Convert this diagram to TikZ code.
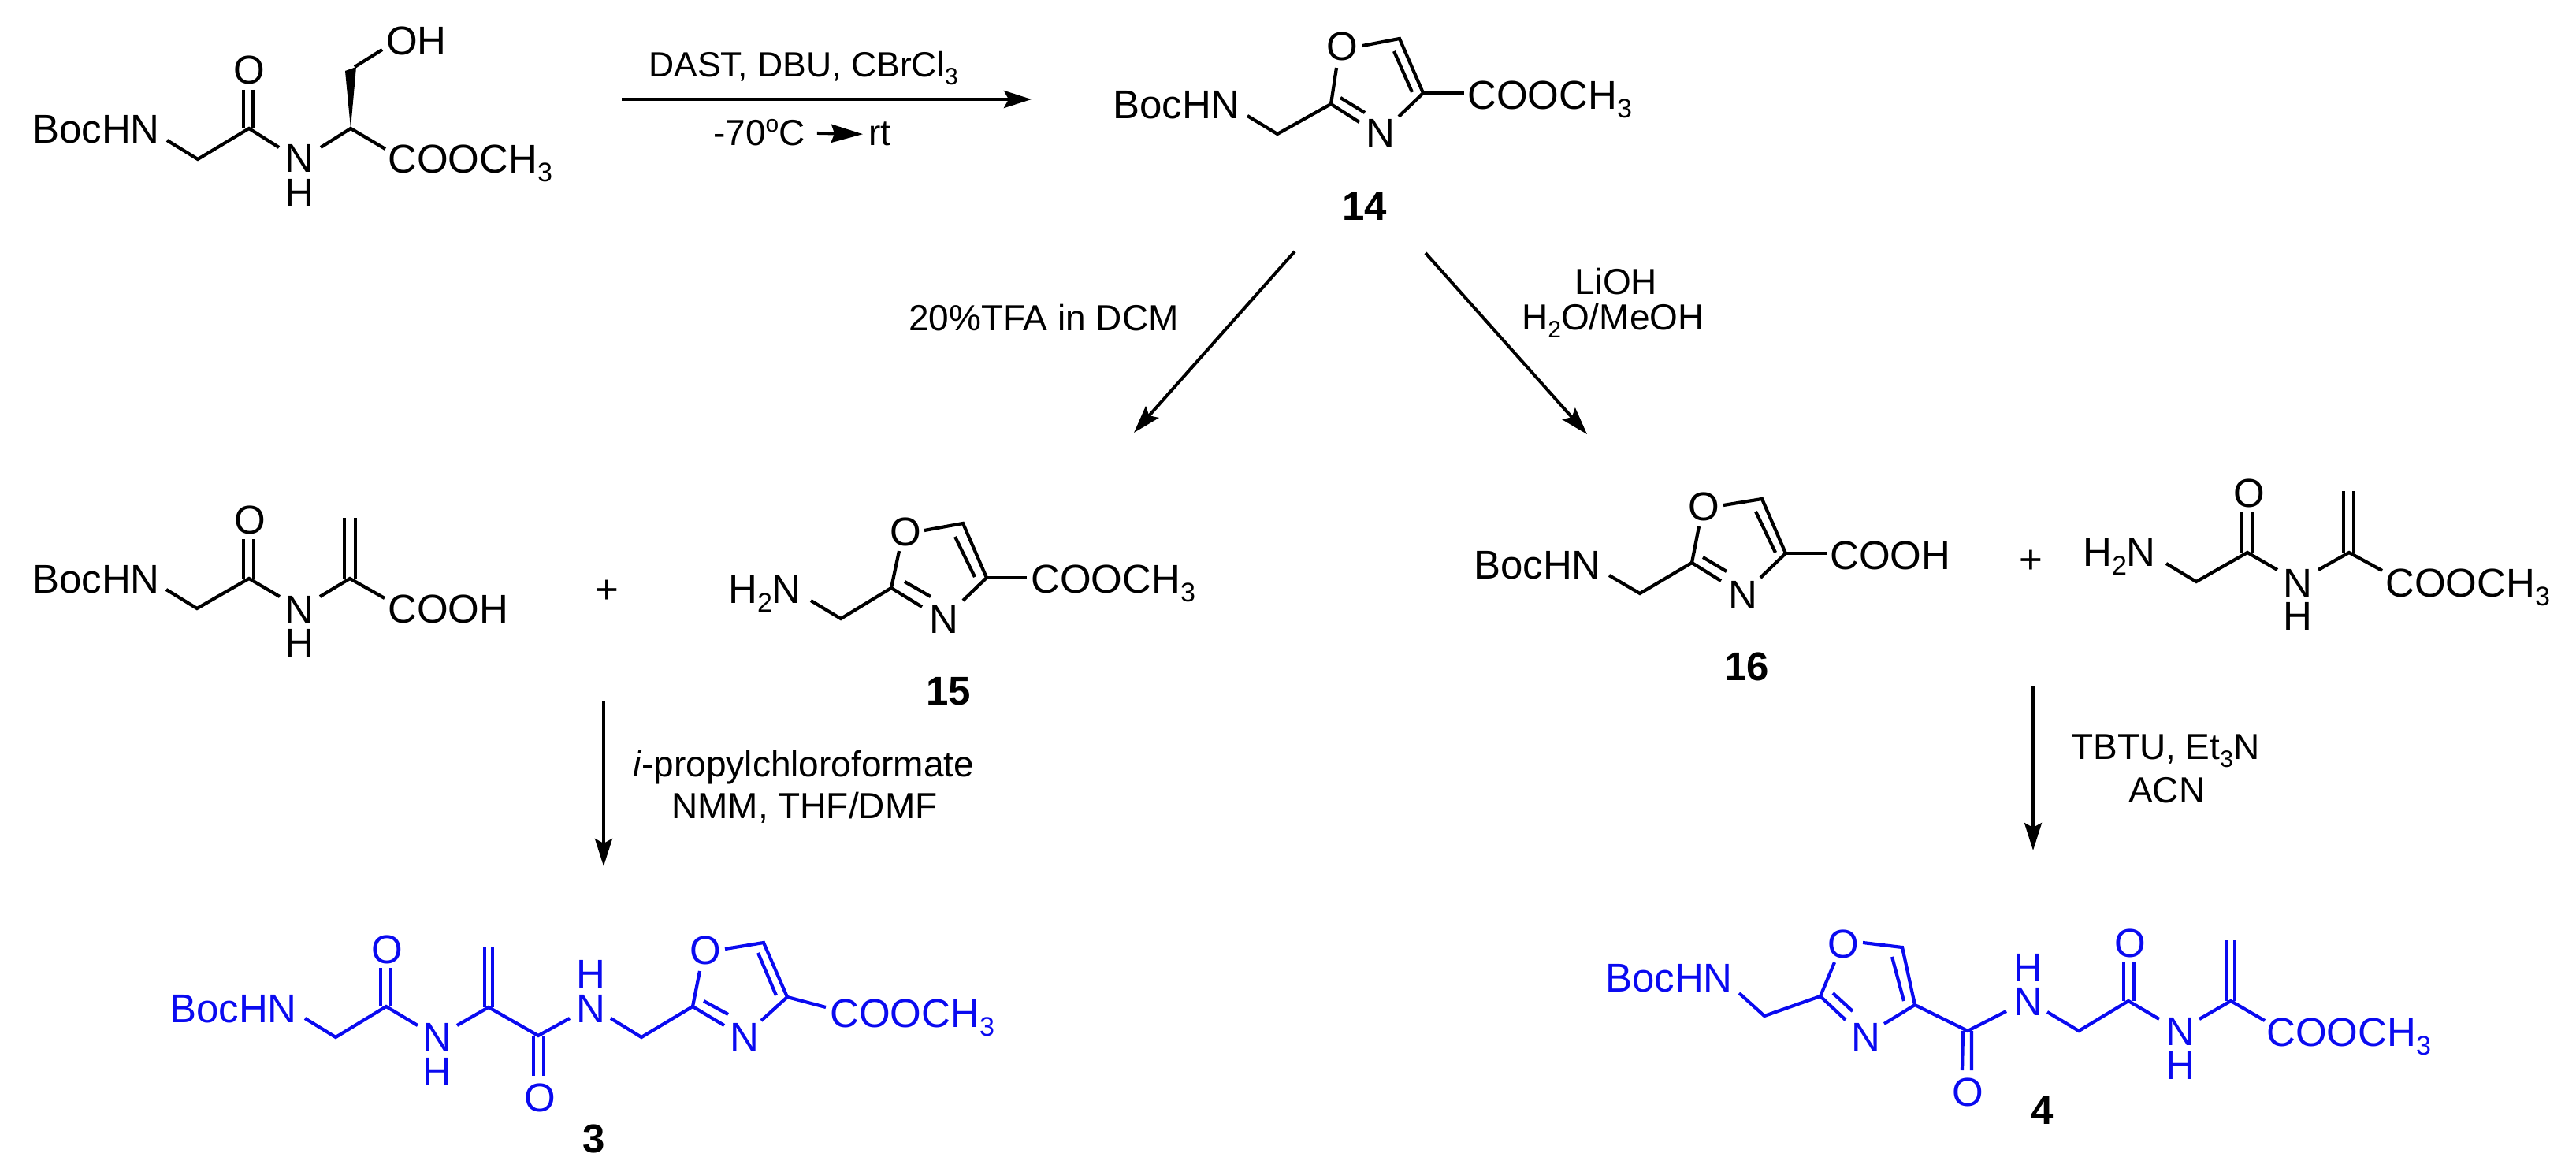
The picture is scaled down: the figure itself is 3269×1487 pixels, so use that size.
\documentclass[tikz,border=0pt]{standalone}
\usepackage{fontspec}
\setmainfont{Liberation Sans}
\usetikzlibrary{arrows.meta}
\definecolor{chemblue}{RGB}{10,10,240}
\newcommand{\subn}[1]{\raisebox{-11pt}{\fontsize{34}{34}\selectfont #1}}
\newcommand{\subr}[1]{\raisebox{-10pt}{\fontsize{30}{30}\selectfont #1}}
\tikzset{
  bond/.style={line width=4.2pt,line join=miter},
  lab/.style={inner sep=0pt,anchor=base west,font=\fontsize{51}{51}\selectfont},
  numlab/.style={lab,font=\fontsize{51}{51}\selectfont\bfseries},
  reag/.style={lab,font=\fontsize{46}{46}\selectfont},
  rxn/.style={line width=4pt,-{Stealth[length=35pt,width=22pt,inset=6pt]}},
  rxnsmall/.style={line width=4pt,-{Stealth[length=40pt,width=23pt,inset=4pt]}}
}
\begin{document}
\begin{tikzpicture}[x=1pt,y=-1pt]
\useasboundingbox (0,0) rectangle (3269,1487);
% ---- arrows
\coordinate (r1s) at (789,126); \coordinate (r1e) at (1309,126);
\coordinate (r2s) at (1643,319); \coordinate (r2e) at (1439,549);
\coordinate (r3s) at (1809,321); \coordinate (r3e) at (2014,551);
\coordinate (r4s) at (766,890); \coordinate (r4e) at (766,1099);
\coordinate (r5s) at (2580,870); \coordinate (r5e) at (2580,1079);
\draw[rxn] (r1s) -- (r1e);
\draw[rxn] (r2s) -- (r2e);
\draw[rxn] (r3s) -- (r3e);
\draw[rxn] (r4s) -- (r4e);
\draw[rxn] (r5s) -- (r5e);
% ---- reagents
\node[reag,font=\fontsize{44.5}{44.5}\selectfont] (t1) at (823,98) {DAST, DBU, CBrCl\subr{3}};
\node[reag] (t2) at (905,185) {-70\raisebox{17pt}{\fontsize{30}{30}\selectfont o}C};
\node[reag] (t3) at (1102,185) {rt};
\draw[rxnsmall,shorten <=15pt,shorten >=7pt] (t2.east) -- (t3.west);
\node[reag] (t4) at (1153,420) {20\%TFA in DCM};
\node[reag] (t5) at (1998,374) {LiOH};
\node[reag] (t6) at (1931,418) {H\subr{2}O/MeOH};
\node[reag] (t7) at (803,985) {\emph{i}-propylchloroformate};
\node[reag] (t8) at (852,1038) {NMM, THF/DMF};
\node[reag] (t9) at (2628,963) {TBTU, Et\subr{3}N};
\node[reag] (t10) at (2701,1018) {ACN};
% ---- starting dipeptide
\node[lab] (a1) at (41,182) {BocHN};
\node[lab] (a2) at (361,219) {N};
\node[lab] (a3) at (361,263) {H};
\node[lab] (a4) at (296,107) {O};
\node[lab] (a5) at (492,220) {COOCH\subn{3}};
\node[lab] (a6) at (490,70) {OH};
\draw[bond] (212,178)--(251,202)--(316,163)--(354,187);
\draw[bond] (309,114)--(309,163) (321,114)--(321,163);
\draw[bond] (407,187)--(445,163)--(489,189);
\fill (445,163)--(438,90)--(452,85)--cycle;
\draw[bond] (450,85)--(485,63);
% ---- 14
\node[lab] (b1) at (1412,151) {BocHN};
\node[lab] (b2) at (1733,187) {N};
\node[lab] (b3) at (1683,77) {O};
\node[lab] (b4) at (1862,139) {COOCH\subn{3}};
\node[numlab] (b5) at (1703,280) {14};
\draw[bond] (1583,147)--(1621,170)--(1689,132)--(1696,86);
\draw[bond] (1689,132)--(1725,155);
\draw[bond] (1701,124)--(1732,143);
\draw[bond] (1729,58)--(1776,49)--(1806,118)--(1775,148);
\draw[bond] (1769,65)--(1792,117);
\draw[bond] (1806,118)--(1858,118);
% ---- acid + 
\node[lab] (c1) at (41,752) {BocHN};
\node[lab] (c2) at (361,791) {N};
\node[lab] (c3) at (361,833) {H};
\node[lab] (c4) at (297,677) {O};
\node[lab] (c5) at (492,790) {COOH};
\node[lab] (c6) at (755,765) {+};
\draw[bond] (211,748)--(250,772)--(316,734)--(355,757);
\draw[bond] (309,684)--(309,734) (322,684)--(322,734);
\draw[bond] (406,757)--(444,734)--(488,759);
\draw[bond] (437,657)--(437,734) (451,657)--(451,734);
% ---- 15
\node[lab] (d1) at (924,765) {H\subn{2}N};
\node[lab] (d2) at (1179,803) {N};
\node[lab] (d3) at (1129,692) {O};
\node[lab] (d4) at (1308,752) {COOCH\subn{3}};
\node[numlab] (d5) at (1175,894) {15};
\draw[bond] (1029,762)--(1067,785)--(1131,746)--(1141,699);
\draw[bond] (1131,746)--(1170,770);
\draw[bond] (1148,738)--(1181,757);
\draw[bond] (1173,673)--(1222,664)--(1252,733)--(1222,762);
\draw[bond] (1212,681)--(1237,732);
\draw[bond] (1252,733)--(1303,733);
% ---- 16
\node[lab] (e1) at (1870,734) {BocHN};
\node[lab] (e2) at (2193,772) {N};
\node[lab] (e3) at (2142,660) {O};
\node[lab] (e4) at (2322,722) {COOH};
\node[numlab] (e5) at (2188,863) {16};
\node[lab] (e6) at (2562,727) {+};
\draw[bond] (2042,730)--(2081,753)--(2147,714)--(2156,668);
\draw[bond] (2147,714)--(2184,737);
\draw[bond] (2161,707)--(2191,725);
\draw[bond] (2187,641)--(2236,633)--(2266,702)--(2234,733);
\draw[bond] (2228,649)--(2253,701);
\draw[bond] (2266,702)--(2318,702);
% ---- amine
\node[lab] (f1) at (2643,718) {H\subn{2}N};
\node[lab] (f2) at (2897,757) {N};
\node[lab] (f3) at (2834,643) {O};
\node[lab] (f5) at (2897,799) {H};
\node[lab] (f6) at (3027,757) {COOCH\subn{3}};
\draw[bond] (2749,715)--(2787,738)--(2852,701)--(2890,723);
\draw[bond] (2845,650)--(2845,701) (2858,650)--(2858,701);
\draw[bond] (2942,723)--(2981,701)--(3023,724);
\draw[bond] (2974,623)--(2974,701) (2987,623)--(2987,701);
% ---- 3 (blue)
\begin{scope}[color=chemblue]
\node[lab] (g1) at (215,1297) {BocHN};
\node[lab] (g2) at (536,1333) {N};
\node[lab] (g3) at (536,1377) {H};
\node[lab] (g4) at (471,1222) {O};
\node[lab] (g5) at (665,1410) {O};
\node[lab] (g6) at (731,1297) {N};
\node[lab] (g7) at (731,1253) {H};
\node[lab] (g8) at (875,1223) {O};
\node[lab] (g9) at (926,1333) {N};
\node[lab] (g10) at (1053,1303) {COOCH\subn{3}};
\draw[bond] (387,1292)--(426,1316)--(490,1277)--(530,1301);
\draw[bond] (483,1228)--(483,1277) (496,1228)--(496,1277);
\draw[bond] (580,1301)--(620,1278)--(683,1314)--(723,1292);
\draw[bond] (615,1201)--(615,1278) (625,1201)--(625,1278);
\draw[bond] (677,1314)--(677,1365) (690,1314)--(690,1365);
\draw[bond] (775,1292)--(814,1316)--(879,1277)--(888,1232);
\draw[bond] (879,1277)--(919,1301);
\draw[bond] (893,1270)--(924,1287);
\draw[bond] (920,1204)--(969,1196)--(999,1265)--(966,1295);
\draw[bond] (962,1209)--(985,1263);
\draw[bond] (999,1265)--(1048,1278);
\end{scope}
\node[numlab] (g11) at (739,1462) {3};
% ---- 4 (blue)
\begin{scope}[color=chemblue]
\node[lab] (h1) at (2037,1258) {BocHN};
\node[lab] (h2) at (2349,1333) {N};
\node[lab] (h3) at (2319,1215) {O};
\node[lab] (h4) at (2477,1403) {O};
\node[lab] (h5) at (2555,1288) {N};
\node[lab] (h6) at (2555,1245) {H};
\node[lab] (h7) at (2683,1214) {O};
\node[lab] (h8) at (2748,1326) {N};
\node[lab] (h9) at (2748,1369) {H};
\node[lab] (h10) at (2876,1327) {COOCH\subn{3}};
\draw[bond] (2207,1260)--(2239,1289)--(2310,1264)--(2328,1221);
\draw[bond] (2310,1264)--(2342,1294);
\draw[bond] (2326,1260)--(2351,1283);
\draw[bond] (2364,1196)--(2414,1202)--(2430,1275)--(2391,1299);
\draw[bond] (2401,1214)--(2416,1270);
\draw[bond] (2430,1275)--(2497,1308)--(2546,1283);
\draw[bond] (2491,1308)--(2490,1358) (2502,1308)--(2502,1358);
\draw[bond] (2598,1284)--(2638,1308)--(2701,1270)--(2740,1293);
\draw[bond] (2695,1220)--(2695,1270) (2708,1220)--(2708,1270);
\draw[bond] (2791,1293)--(2831,1270)--(2874,1295);
\draw[bond] (2825,1193)--(2825,1270) (2836,1193)--(2836,1270);
\end{scope}
\node[numlab] (h11) at (2577,1426) {4};
\end{tikzpicture}
\end{document}
